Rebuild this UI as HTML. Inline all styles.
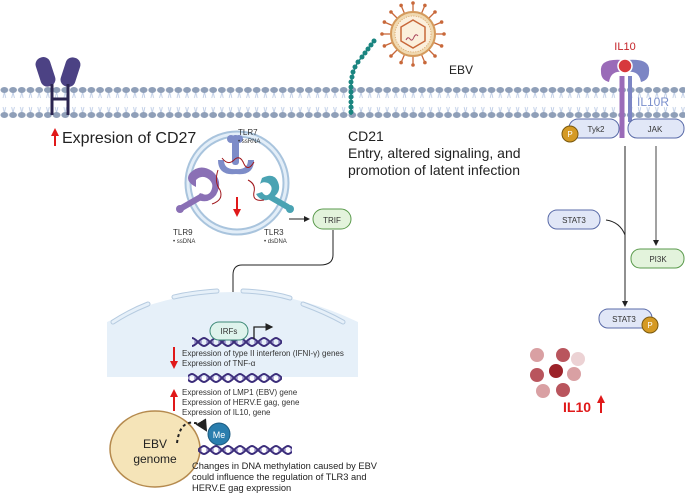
<!DOCTYPE html>
<html><head><meta charset="utf-8"><style>
body{margin:0;background:#fff}
svg{display:block;font-family:"Liberation Sans",sans-serif}
</style></head><body>
<svg width="685" height="496" viewBox="0 0 685 496" xmlns="http://www.w3.org/2000/svg">
<defs>
<pattern id="mem" x="0" y="0" width="8.7" height="40" patternUnits="userSpaceOnUse">
<path d="M4.35 92 L3 98 M4.35 92 L5.7 98 M3 107 L4.35 113 M5.7 107 L4.35 113" stroke="#b9c9e4" stroke-width="0.8" fill="none" transform="translate(0,-80)"/>
<ellipse cx="4.35" cy="10" rx="3.9" ry="3" fill="#8f9fb8"/>
<ellipse cx="4.35" cy="35" rx="3.9" ry="3" fill="#8f9fb8"/>
</pattern>
<pattern id="dna" x="0" y="0" width="12" height="12" patternUnits="userSpaceOnUse">
<path d="M0 2 C4 2 8 10 12 10 M0 10 C4 10 8 2 12 2" stroke="#3b2d7a" stroke-width="2" fill="none"/>
<path d="M3 4 V8 M9 4 V8" stroke="#6e5fb0" stroke-width="1"/>
</pattern>
<marker id="ah" markerWidth="6" markerHeight="6" refX="5" refY="3" orient="auto"><path d="M0 0 L6 3 L0 6z" fill="#222"/></marker>
<marker id="ahr" markerWidth="4" markerHeight="4" refX="2" refY="2" orient="auto"><path d="M0 0 L4 2 L0 4z" fill="#e0191a"/></marker>
</defs>

<!-- membrane -->
<rect x="0" y="80" width="685" height="40" fill="url(#mem)"/>

<!-- CD27 -->
<g fill="#4c4284">
<rect x="38" y="57" width="15" height="30" rx="7" transform="rotate(-18 45 72)"/>
<rect x="63" y="57" width="15" height="30" rx="7" transform="rotate(18 70 72)"/>
</g>
<path d="M52 84 V115 M68 84 V115 M52 99 H68" stroke="#2b2550" stroke-width="3" fill="none"/>
<path d="M55 146 V132" stroke="#e0191a" stroke-width="2" marker-end="url(#ahr)"/>
<text x="62" y="143" font-size="16" fill="#222">Expresion of CD27</text>

<!-- CD21 -->
<path d="M351 115 V92 C351 80 353 70 358 62 L373 42" stroke="#1a8580" stroke-width="1.5" fill="none"/>
<g fill="#1a8580">
<circle cx="351" cy="112" r="2.5"/><circle cx="351" cy="107" r="2.5"/><circle cx="351" cy="102" r="2.5"/><circle cx="351" cy="97" r="2.5"/><circle cx="351" cy="92" r="2.5"/><circle cx="351" cy="87" r="2.5"/><circle cx="351" cy="82" r="2.5"/><circle cx="352" cy="77" r="2.5"/><circle cx="353" cy="72" r="2.5"/><circle cx="355" cy="67" r="2.5"/><circle cx="358" cy="62" r="2.5"/><circle cx="362" cy="57" r="2.5"/><circle cx="365" cy="53" r="2.5"/><circle cx="368" cy="49" r="2.5"/><circle cx="371" cy="45" r="2.5"/><circle cx="374" cy="41" r="2.5"/>
</g>
<text x="348" y="141" font-size="14" fill="#222">CD21</text>
<text x="348" y="158" font-size="14" fill="#222">Entry, altered signaling, and</text>
<text x="348" y="175" font-size="14" fill="#222">promotion of latent infection</text>

<!-- EBV virus -->
<g transform="translate(413,34)">
<g stroke="#c8683a" stroke-width="1.3">
<line x1="0" y1="-22" x2="0" y2="-31"/><line x1="0" y1="22" x2="0" y2="31"/><line x1="-22" y1="0" x2="-31" y2="0"/><line x1="22" y1="0" x2="31" y2="0"/>
<line x1="15.5" y1="15.5" x2="22" y2="22"/><line x1="-15.5" y1="15.5" x2="-22" y2="22"/><line x1="15.5" y1="-15.5" x2="22" y2="-22"/><line x1="-15.5" y1="-15.5" x2="-22" y2="-22"/>
<line x1="8.4" y1="-20.3" x2="11.9" y2="-28.6"/><line x1="-8.4" y1="-20.3" x2="-11.9" y2="-28.6"/><line x1="8.4" y1="20.3" x2="11.9" y2="28.6"/><line x1="-8.4" y1="20.3" x2="-11.9" y2="28.6"/>
<line x1="20.3" y1="8.4" x2="28.6" y2="11.9"/><line x1="-20.3" y1="8.4" x2="-28.6" y2="11.9"/><line x1="20.3" y1="-8.4" x2="28.6" y2="-11.9"/><line x1="-20.3" y1="-8.4" x2="-28.6" y2="-11.9"/>
</g>
<g fill="#c8683a"><circle cx="0" cy="-31" r="1.8"/><circle cx="0" cy="31" r="1.8"/><circle cx="-31" cy="0" r="1.8"/><circle cx="31" cy="0" r="1.8"/><circle cx="22" cy="22" r="1.8"/><circle cx="-22" cy="22" r="1.8"/><circle cx="22" cy="-22" r="1.8"/><circle cx="-22" cy="-22" r="1.8"/><circle cx="11.9" cy="-28.6" r="1.8"/><circle cx="-11.9" cy="-28.6" r="1.8"/><circle cx="11.9" cy="28.6" r="1.8"/><circle cx="-11.9" cy="28.6" r="1.8"/><circle cx="28.6" cy="11.9" r="1.8"/><circle cx="-28.6" cy="11.9" r="1.8"/><circle cx="28.6" cy="-11.9" r="1.8"/><circle cx="-28.6" cy="-11.9" r="1.8"/></g>
<circle r="22" fill="#f0d9b0" stroke="#d49a5c" stroke-width="2"/>
<circle r="18" fill="#fbefdc" stroke="#d49a5c" stroke-width="0.8" stroke-dasharray="1 1.5"/>
<polygon points="0,-14 12,-7 12,7 0,14 -12,7 -12,-7" fill="none" stroke="#c8683a" stroke-width="1.5"/>
<path d="M-7 6 q2 -4 4 -1 q2 3 4 -2 q2 -4 4 -1" stroke="#a8455c" stroke-width="1" fill="none"/>
</g>
<text x="449" y="74" font-size="12" fill="#222">EBV</text>

<!-- vesicle -->
<circle cx="237" cy="183" r="49" fill="none" stroke="#a9c4dd" stroke-width="7"/>
<circle cx="237" cy="183" r="49" fill="none" stroke="#e3eef8" stroke-width="3"/>
<!-- TLR7 -->
<g fill="#7d8cc8">
<rect x="232" y="135" width="7" height="30" rx="3"/>
<circle cx="231" cy="139" r="4"/><circle cx="239" cy="139" r="4"/>
<path d="M218 160 q0 16 18 14 q18 2 18 -14 l-6 0 q0 10 -12 9 q-12 1 -12 -9z"/>
</g>
<path d="M222 158 q6 8 12 2 q6 -6 10 4 q4 8 10 -2" stroke="#a0161b" stroke-width="1" fill="none"/>
<text x="238" y="135" font-size="8" fill="#333">TLR7</text>
<text x="238" y="143" font-size="6" fill="#333">• ssRNA</text>
<!-- TLR9 -->
<g fill="#8a70b5">
<path d="M196 187 q-12 -6 -6 -14 q10 -10 22 -2 q12 10 4 24 q-8 10 -20 4 l4 -6 q8 4 11 -2 q4 -8 -4 -13 q-6 -3 -11 2z"/>
<rect x="178" y="199" width="28" height="6" rx="3" transform="rotate(-30 192 202)"/>
<circle cx="180" cy="209" r="4"/>
</g>
<path d="M218 170 q-4 12 2 20 q4 10 -8 14" stroke="#a0161b" stroke-width="1" fill="none"/>
<text x="173" y="235" font-size="8" fill="#333">TLR9</text>
<text x="173" y="243" font-size="6" fill="#333">• ssDNA</text>
<!-- TLR3 -->
<g fill="#4aa3b3">
<path d="M262 178 q12 -6 16 4 q4 10 -6 16 q-10 6 -16 -4 l6 -2 q4 6 8 1 q4 -6 -2 -10 q-5 -2 -8 1z"/>
<rect x="266" y="199" width="26" height="6" rx="3" transform="rotate(30 279 202)"/>
<circle cx="290" cy="209" r="4"/>
</g>
<path d="M248 180 q8 4 6 12 q-2 10 10 8" stroke="#a0161b" stroke-width="1" fill="none"/>
<text x="264" y="235" font-size="8" fill="#333">TLR3</text>
<text x="264" y="243" font-size="6" fill="#333">• dsDNA</text>
<path d="M237 197 V213" stroke="#e0191a" stroke-width="2" marker-end="url(#ahr)"/>

<!-- TRIF -->
<line x1="289" y1="219" x2="309" y2="219" stroke="#222" stroke-width="1" marker-end="url(#ah)"/>
<rect x="313" y="209" width="38" height="20" rx="10" fill="#e3f3dc" stroke="#5a9a4c"/>
<text x="332" y="223" font-size="8" fill="#333" text-anchor="middle">TRIF</text>
<path d="M333 230 V255 Q333 265 320 265 H242 Q233 265 233 275 V316" stroke="#222" stroke-width="1" fill="none" marker-end="url(#ah)"/>

<!-- nucleus -->
<path d="M107 377 V322 Q232 262 358 322 V377 Z" fill="#e6f0f9"/>
<g stroke="#b6cbe0" stroke-width="5" stroke-linecap="round" fill="none">
<path d="M113 322 Q130 311 148 304"/>
<path d="M174 297 Q190 293 217 291"/>
<path d="M243 291 Q270 292 290 298"/>
<path d="M303 304 Q325 312 343 322"/>
</g>
<g stroke="#e6f0f9" stroke-width="3" stroke-linecap="round" fill="none">
<path d="M113 322 Q130 311 148 304"/>
<path d="M174 297 Q190 293 217 291"/>
<path d="M243 291 Q270 292 290 298"/>
<path d="M303 304 Q325 312 343 322"/>
</g>
<rect x="192" y="336" width="90" height="12" fill="url(#dna)"/>
<rect x="210" y="322" width="38" height="18" rx="9" fill="#def3ec" stroke="#3f8a78"/>
<text x="229" y="334" font-size="8" fill="#333" text-anchor="middle">IRFs</text>
<path d="M254 339 V327 H272" stroke="#222" stroke-width="1.3" fill="none" marker-end="url(#ah)"/>
<path d="M174 347 V365" stroke="#e0191a" stroke-width="2" marker-end="url(#ahr)"/>
<text x="182" y="356" font-size="8" fill="#333">Expression of type II interferon (IFNI-γ) genes</text>
<text x="182" y="366" font-size="8" fill="#333">Expression of TNF-α</text>
<rect x="188" y="372" width="94" height="12" fill="url(#dna)"/>
<path d="M174 411 V393" stroke="#e0191a" stroke-width="2" marker-end="url(#ahr)"/>
<text x="182" y="395" font-size="8" fill="#333">Expression of LMP1 (EBV)  gene</text>
<text x="182" y="405" font-size="8" fill="#333">Expression of HERV.E gag, gene</text>
<text x="182" y="415" font-size="8" fill="#333">Expression of IL10, gene</text>

<!-- EBV genome -->
<ellipse cx="155" cy="449" rx="45" ry="38" fill="#f5e4b8" stroke="#b58a4e" stroke-width="1.5"/>
<text x="155" y="448" font-size="12" fill="#222" text-anchor="middle">EBV</text>
<text x="155" y="463" font-size="12" fill="#222" text-anchor="middle">genome</text>
<path d="M177 443 Q180 420 195 423 Q203 425 206 430" stroke="#222" stroke-width="2" stroke-dasharray="3 3" fill="none" marker-end="url(#ah)"/>
<rect x="198" y="444" width="94" height="12" fill="url(#dna)"/>
<circle cx="219" cy="434" r="11" fill="#2a7eae" stroke="#1c5b80"/>
<text x="219" y="438" font-size="9" fill="#fff" text-anchor="middle">Me</text>
<text x="192" y="469" font-size="9.3" fill="#222">Changes in DNA methylation caused by EBV</text>
<text x="192" y="480" font-size="9.3" fill="#222">could influence the regulation of TLR3 and</text>
<text x="192" y="491" font-size="9.3" fill="#222">HERV.E gag expression</text>

<!-- IL10R -->
<text x="625" y="50" font-size="11" fill="#c42328" text-anchor="middle">IL10</text>
<path d="M622 138 V76" stroke="#9a6bb8" stroke-width="5"/>
<path d="M630 122 V76" stroke="#7c85c4" stroke-width="4"/>
<path d="M601 72 q-2 -14 22 -12 l0 12 q-12 -2 -14 10 q-8 -2 -8 -10z" fill="#9a6bb8"/>
<path d="M649 72 q2 -14 -22 -12 l0 12 q12 -2 14 10 q8 -2 8 -10z" fill="#7c85c4"/>
<circle cx="625" cy="66" r="7" fill="#d7383d" stroke="#fff" stroke-width="1.5"/>
<text x="637" y="106" font-size="12" fill="#7a8fcc">IL10R</text>
<rect x="569" y="119" width="50" height="19" rx="9" fill="#e1e7f7" stroke="#5a6ba8"/>
<text x="596" y="132" font-size="8" fill="#333" text-anchor="middle">Tyk2</text>
<rect x="628" y="119" width="56" height="19" rx="9" fill="#e1e7f7" stroke="#5a6ba8"/>
<text x="655" y="132" font-size="8" fill="#333" text-anchor="middle">JAK</text>
<circle cx="570" cy="134" r="8" fill="#d59a24" stroke="#7a5a10"/>
<text x="570" y="137" font-size="8" fill="#fff" text-anchor="middle">P</text>
<line x1="625" y1="146" x2="625" y2="306" stroke="#222" marker-end="url(#ah)"/>
<line x1="656" y1="146" x2="656" y2="245" stroke="#444" stroke-width="1" marker-end="url(#ah)"/>
<rect x="548" y="210" width="52" height="19" rx="9" fill="#e1e7f7" stroke="#5a6ba8"/>
<text x="574" y="223" font-size="8" fill="#333" text-anchor="middle">STAT3</text>
<path d="M606 220 Q620 222 625 235" stroke="#222" fill="none"/>
<rect x="631" y="249" width="53" height="19" rx="9" fill="#e3f3dc" stroke="#5a9a4c"/>
<text x="658" y="262" font-size="8" fill="#333" text-anchor="middle">PI3K</text>
<rect x="599" y="309" width="53" height="19" rx="9" fill="#e1e7f7" stroke="#5a6ba8"/>
<text x="624" y="322" font-size="8" fill="#333" text-anchor="middle">STAT3</text>
<circle cx="650" cy="325" r="8" fill="#d59a24" stroke="#7a5a10"/>
<text x="650" y="328" font-size="8" fill="#fff" text-anchor="middle">P</text>

<!-- IL10 balls -->
<circle cx="537" cy="355" r="7" fill="#d9a0a3"/>
<circle cx="563" cy="355" r="7" fill="#b9555d"/>
<circle cx="578" cy="359" r="7" fill="#ecd2d4"/>
<circle cx="537" cy="375" r="7" fill="#b9555d"/>
<circle cx="556" cy="371" r="7" fill="#9c2229"/>
<circle cx="574" cy="374" r="7" fill="#d9a0a3"/>
<circle cx="543" cy="391" r="7" fill="#d9a0a3"/>
<circle cx="563" cy="390" r="7" fill="#b9555d"/>
<text x="563" y="412" font-size="14" font-weight="bold" fill="#e0191a">IL10</text>
<path d="M601 413 V399" stroke="#e0191a" stroke-width="2" marker-end="url(#ahr)"/>
</svg>
</body></html>
